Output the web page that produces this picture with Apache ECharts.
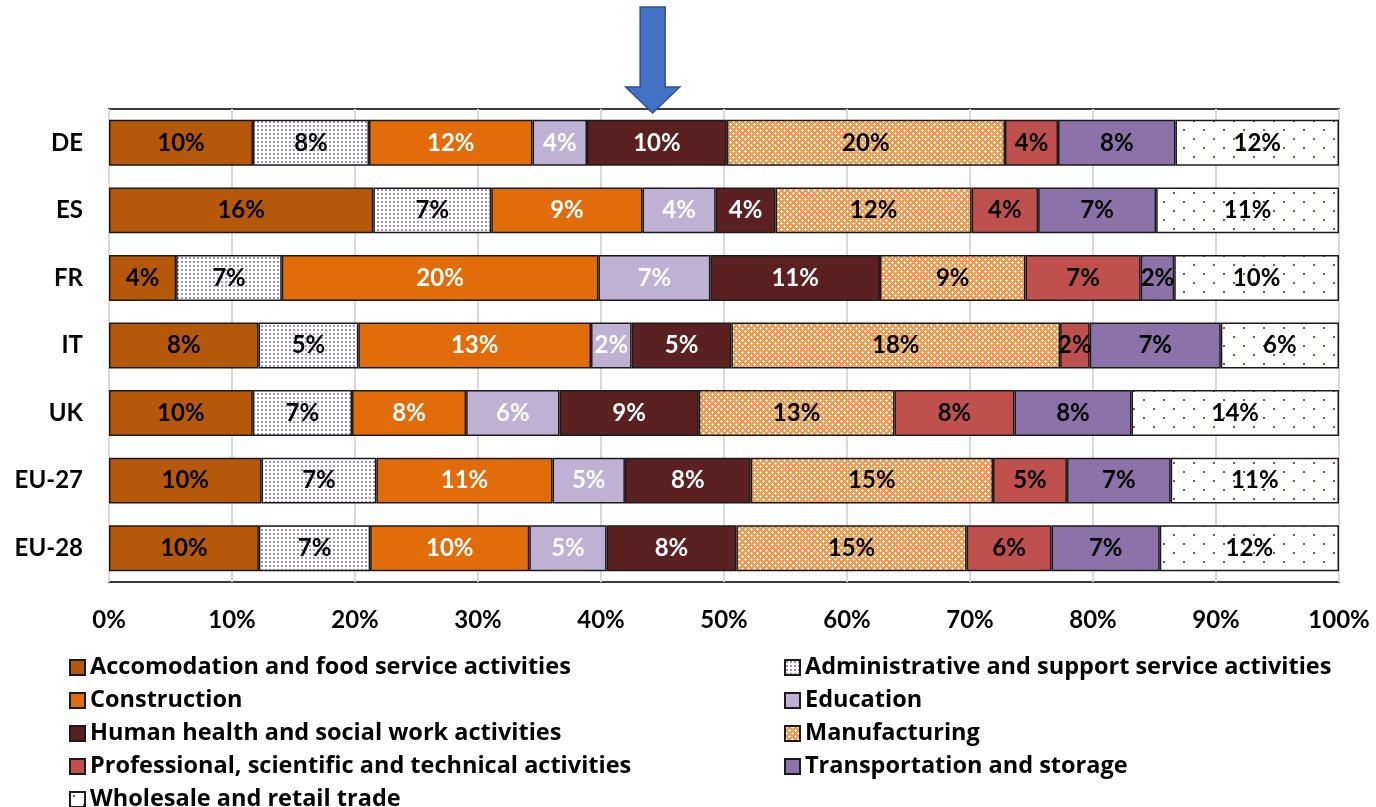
<!DOCTYPE html>
<html>
<head>
<meta charset="utf-8">
<script src="https://cdn.jsdelivr.net/npm/echarts@6/dist/echarts.min.js"></script>
<style>
html,body{margin:0;padding:0;background:#fff;}
#c{width:1376px;height:807px;}
</style>
</head>
<body>
<div id="c"></div>
<script>
// ---- data ----
const countries = ['DE', 'ES', 'FR', 'IT', 'UK', 'EU-27', 'EU-28'];
const sectorNames = [
  'Accomodation and food service activities',
  'Administrative and support service activities',
  'Construction',
  'Education',
  'Human health and social work activities',
  'Manufacturing',
  'Professional, scientific and technical activities',
  'Transportation and storage',
  'Wholesale and retail trade'
];
// raw shares (%) per sector, in order DE, ES, FR, IT, UK, EU-27, EU-28
const accomodation   = [10.3, 15.9, 4.2, 8.1, 9.7, 9.7, 9.7];
const administrative = [8.3, 7.1, 6.6, 5.4, 6.7, 7.3, 7.2];
const construction   = [11.7, 9.1, 19.8, 12.6, 7.7, 11.2, 10.3];
const education      = [3.9, 4.4, 7.0, 2.2, 6.3, 4.6, 5.0];
const health         = [10.0, 3.6, 10.6, 5.4, 9.4, 8.0, 8.4];
const manufacturing  = [19.9, 11.8, 9.1, 17.8, 13.2, 15.4, 14.9];
const professional   = [3.8, 4.0, 7.2, 1.6, 8.1, 4.7, 5.5];
const transportation = [8.4, 7.1, 2.1, 7.1, 7.9, 6.6, 7.0];
const wholesale      = [11.7, 11.0, 10.3, 6.4, 14.0, 10.7, 11.6];
const xTicks = [0, 10, 20, 30, 40, 50, 60, 70, 80, 90, 100];
const ARROW_AT = 44.2; // position (in % of bar) the arrow points at

const raw = [accomodation, administrative, construction, education, health,
             manufacturing, professional, transportation, wholesale];

// ---- patterns ----
function pattern(w, h, bg, draw) {
  const c = document.createElement('canvas');
  c.width = w; c.height = h;
  const g = c.getContext('2d');
  g.fillStyle = bg; g.fillRect(0, 0, w, h);
  draw(g);
  return { image: c, repeat: 'repeat' };
}
const adminPat = pattern(4, 4, '#ffffff', g => {
  g.fillStyle = '#a08cc6'; g.fillRect(1, 1, 2, 2);
});
const manufPat = pattern(6, 6, '#f79646', g => {
  g.fillStyle = '#ffffff';
  g.fillRect(1, 0, 1, 1); g.fillRect(0, 1, 3, 1); g.fillRect(1, 2, 1, 1);
  g.fillRect(4, 3, 1, 1); g.fillRect(3, 4, 3, 1); g.fillRect(4, 5, 1, 1);
});
const wholePat = pattern(20, 18, '#ffffff', g => {
  g.fillStyle = '#9e4a4a';
  g.fillRect(3, 3, 2, 2); g.fillRect(13, 12, 2, 2);
});

const colors = ['#b6580a', adminPat, '#e36c0a', '#bfb1d4', '#5b2121',
                manufPat, '#c0504d', '#8b72a9', wholePat];
const labelColors = ['#000', '#000', '#fff', '#fff', '#fff', '#000', '#000', '#000', '#000'];

const totals = countries.map((_, i) => raw.reduce((s, arr) => s + arr[i], 0));

const FONT = 'Lato';
const series = sectorNames.map((name, k) => ({
  name: name,
  type: 'bar',
  stack: 'all',
  barCategoryGap: '32%',
  data: raw[k].map((v, i) => v / totals[i] * 100),
  itemStyle: { color: colors[k], borderColor: '#1a1a1a', borderWidth: 1.5 },
  label: {
    show: true,
    position: 'inside',
    color: labelColors[k],
    fontFamily: FONT,
    fontWeight: 'bold',
    fontSize: 24,
    formatter: p => Math.round(raw[k][p.dataIndex]) + '%'
  },
  emphasis: { disabled: true }
}));

const chart = echarts.init(document.getElementById('c'), null, { renderer: 'canvas' });
const legendText = { fontFamily: 'Open Sans', fontWeight: 'bold', fontSize: 23.5, color: '#000', lineHeight: 31 };
chart.setOption({
  animation: false,
  backgroundColor: '#fff',
  grid: {
    left: 109, right: 37, top: 109, bottom: 225,
    show: true, borderColor: '#3a3a3a', borderWidth: 2, backgroundColor: '#fff'
  },
  xAxis: {
    type: 'value', min: xTicks[0], max: xTicks[xTicks.length - 1], interval: 10,
    axisLine: { show: false }, axisTick: { show: false },
    splitLine: { show: true, lineStyle: { color: '#d9d9d9', width: 2 } },
    axisLabel: {
      formatter: '{value}%', margin: 26,
      fontFamily: FONT, fontWeight: 'bold', fontSize: 24, color: '#000'
    }
  },
  yAxis: {
    type: 'category', data: countries, inverse: true,
    axisLine: { show: false }, axisTick: { show: false },
    axisLabel: { margin: 26, fontFamily: FONT, fontWeight: 'bold', fontSize: 24, color: '#000' }
  },
  legend: [
    {
      data: [sectorNames[0], sectorNames[2], sectorNames[4], sectorNames[6], sectorNames[8]],
      orient: 'vertical', left: 64, top: 647, height: 170, itemWidth: 15, itemHeight: 15, itemGap: 2,
      icon: 'rect', textStyle: legendText, selectedMode: false
    },
    {
      data: [sectorNames[1], sectorNames[3], sectorNames[5], sectorNames[7]],
      orient: 'vertical', left: 779, top: 647, height: 170, itemWidth: 15, itemHeight: 15, itemGap: 2,
      icon: 'rect', textStyle: legendText, selectedMode: false
    }
  ],
  series: series
});

// arrow annotation pointing at ARROW_AT on the x axis
const ax = chart.convertToPixel({ xAxisIndex: 0 }, ARROW_AT);
chart.setOption({
  graphic: [{
    type: 'polygon',
    shape: {
      points: [
        [ax - 12.5, 7], [ax + 12.5, 7], [ax + 12.5, 87], [ax + 27, 87],
        [ax, 113], [ax - 27, 87], [ax - 12.5, 87]
      ]
    },
    style: { fill: '#4472c4', stroke: '#2f528f', lineWidth: 1.5 },
    z: 100
  }]
});
</script>
</body>
</html>
